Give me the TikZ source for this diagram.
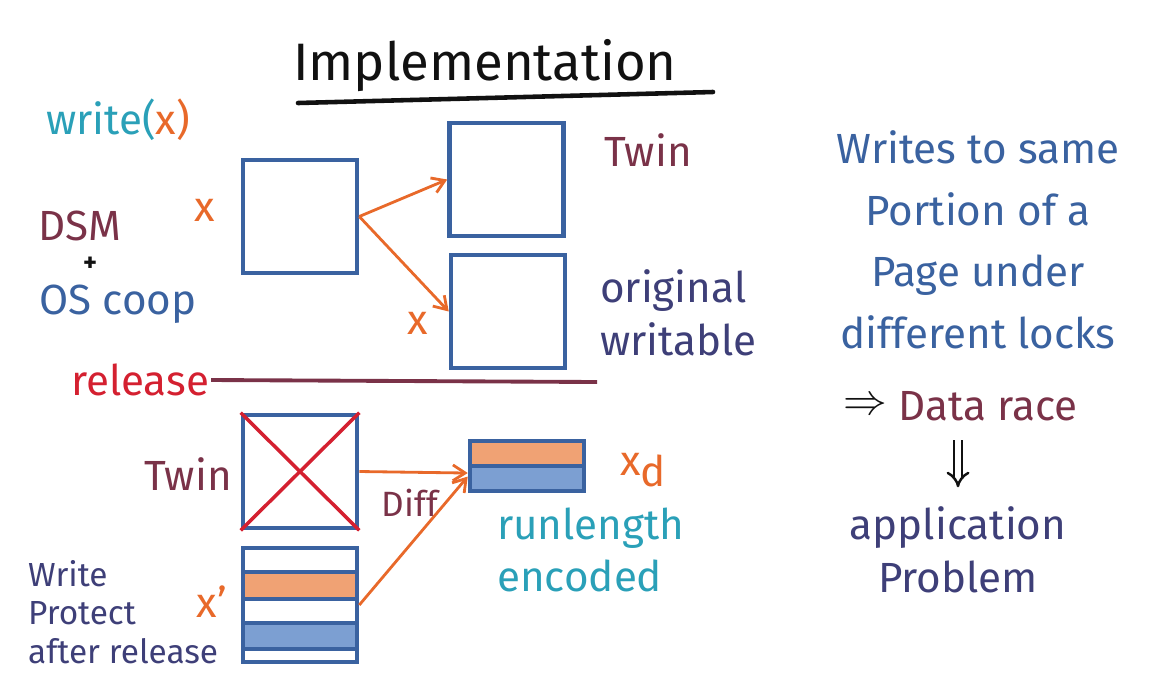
\documentclass[tikz,border=0pt]{standalone}
\usepackage{fontspec}
\setmainfont{Fira Sans}
\usetikzlibrary{arrows.meta,positioning,calc}
\definecolor{ink}{HTML}{111111}
\definecolor{penblue}{HTML}{3A62A0}
\definecolor{pennavy}{HTML}{3E3F78}
\definecolor{penmaroon}{HTML}{7A3248}
\definecolor{penorange}{HTML}{E8692A}
\definecolor{pencyan}{HTML}{2AA0B8}
\definecolor{penred}{HTML}{D42030}
\definecolor{fillorange}{HTML}{F0A274}
\definecolor{fillblue}{HTML}{7C9FD2}
\tikzset{
  page/.style={draw=penblue,line width=2.6pt,minimum width=2.28cm,minimum height=2.26cm,inner sep=0pt},
  hand/.style={inner sep=1pt,font=\fontsize{24}{30}\selectfont},
  flow/.style={draw=penorange,line width=1.6pt,-{Straight Barb[length=7pt,width=9pt]}},
}

\begin{document}
\begin{tikzpicture}[x=0.02cm,y=-0.02cm]
  \useasboundingbox (0,0) rectangle (1151,694);
  % title
  \node[hand,text=ink,font=\fontsize{30}{34}\selectfont] (title) at (485,66) {Implementation};
  \draw[ink,line width=2.6pt,line cap=round] (298,103) -- (713,92);

  % pages before release
  \node[page] (src) at (300,216.5) {};
  \node[page] (twin) at (506.5,179.5) {};
  \node[page] (orig) at (508,311.5) {};
  \draw[flow] (src.east) -- (twin.west);
  \draw[flow] (src.east) -- (orig.west);

  \node[hand,text=pencyan] (write) at (118,120) {write(\textcolor{penorange}{x)}};
  \node[hand,text=penorange] (xsrc) at (205,210) {x};
  \node[hand,text=penmaroon] (dsm) at (80,226) {DSM};
  \node[text=ink,inner sep=0pt,font=\fontsize{15}{15}\selectfont\bfseries] (plus) at (90,264) {+};
  \node[hand,text=penblue] (oscoop) at (118,304) {OS coop};
  \node[hand,text=penmaroon] (twinlbl) at (648,150) {Twin};
  \node[hand,text=pennavy,align=left,anchor=west] (origlbl) at (598,313) {original\\writable};
  \node[hand,text=penorange] (xorig) at (418,323) {x};

  % release
  \node[hand,text=penred] (release) at (140,380) {release};
  \coordinate (relend) at (597,382);
  \draw[penmaroon,line width=2.2pt] (release.east) -- (relend);

  % pages after release
  \node[page] (oldtwin) at (300,471.5) {};
  \draw[penred,line width=2pt] (oldtwin.north west) -- (oldtwin.south east);
  \draw[penred,line width=2pt] (oldtwin.north east) -- (oldtwin.south west);
  \filldraw[fill=fillorange,draw=penblue,line width=2.6pt] (243,572) rectangle (357,599);
  \filldraw[fill=fillblue,draw=penblue,line width=2.6pt] (243,623) rectangle (357,649);
  \node[page,minimum height=2.28cm] (xprime) at (300,605) {};
  \filldraw[fill=fillorange,draw=penblue,line width=2.6pt] (470,441) rectangle (584,466);
  \filldraw[fill=fillblue,draw=penblue,line width=2.6pt] (470,466) rectangle (584,491);
  \node[draw=penblue,line width=2.6pt,minimum width=2.28cm,minimum height=1cm,inner sep=0pt] (xd) at (527,466) {};
  \draw[flow] (oldtwin.east) -- ([yshift=-4pt]xd.west);
  \draw[flow] (xprime.east) -- ([yshift=-6pt]xd.west);

  \node[hand,text=penmaroon] (twinold) at (188,474) {Twin};
  \node[hand,text=penmaroon,font=\fontsize{20}{24}\selectfont] (diff) at (410,503) {Diff};
  \node[hand,text=penorange] (xp) at (212,602) {x'};
  \node[hand,text=pennavy,align=left,anchor=west,font=\fontsize{19}{22}\selectfont] (protect) at (26,612) {Write\\Protect\\after release};
  \node[hand,text=penorange] (xdlbl) at (643,470) {x\raisebox{-0.5ex}{d}};
  \node[hand,text=pencyan,align=left,anchor=west] (rle) at (495,550) {runlength\\encoded};

  % consequence
  \node[hand,text=penblue,align=center,font=\fontsize{24}{35}\selectfont] (race1) at (978,240) {Writes to same\\Portion of a\\Page under\\different locks};
  \node[hand,text=penmaroon] (race) at (988,406) {Data race};
  \node[hand,text=ink,left=4pt of race] (implies) {$\Rightarrow$};
  \node[hand,text=pennavy,align=center] (app) at (958,550) {application\\Problem};
  \draw[ink,line width=1.4pt,double,double distance=3pt,-{Implies},shorten <=10pt,shorten >=10pt] (race.south -| app.north) -- (app.north);
\end{tikzpicture}
\end{document}
